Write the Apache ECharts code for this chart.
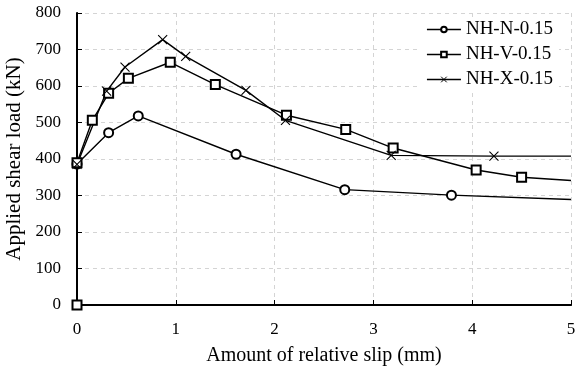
<!DOCTYPE html>
<html>
<head>
<meta charset="utf-8">
<script src="https://cdn.jsdelivr.net/npm/echarts@6/dist/echarts.min.js"></script>
<style>
  html, body { margin: 0; padding: 0; background: #fff; }
  #chart { width: 576px; height: 372px; }
</style>
</head>
<body>
<div id="chart"></div>
<script>
// slip (mm), load (kN); last point of each curve has no marker
const seriesNames = ['NH-N-0.15', 'NH-V-0.15', 'NH-X-0.15']
const slipN = [0, 0.32, 0.62, 1.61, 2.71, 3.79, 5]
const loadN = [386, 472, 518, 413, 316, 301, 289]
const slipV = [0, 0, 0.155, 0.32, 0.52, 0.944, 1.4, 2.12, 2.72, 3.2, 4.04, 4.5, 5]
const loadV = [0, 390, 506, 580, 621, 665, 604, 520, 481, 430, 370, 350, 341]
const slipX = [0, 0.3, 0.486, 0.867, 1.1, 1.71, 2.11, 3.18, 4.22, 5]
const loadX = [385, 586, 652, 727, 681, 588, 506, 410, 408, 408]

const FONT = '"Liberation Serif", "Times New Roman", serif'
const crossSymbol = 'path://M0,0L10,10M10,0L0,10'
const gridLine = { show: true, lineStyle: { color: '#d4d4d4', type: [4, 4], width: 1 } }

function toData(xs, ys) {
  return xs.map((x, i) => {
    if (i === xs.length - 1) {
      return { value: [x, ys[i]], symbol: 'none' }
    }
    return [x, ys[i]]
  })
}

function makeSeries(name, xs, ys, symbol, size) {
  return {
    name,
    type: 'line',
    data: toData(xs, ys),
    symbol,
    symbolSize: size,
    showAllSymbol: true,
    animation: false,
    z: 3,
    lineStyle: { color: '#000', width: 1.4 },
    itemStyle: { color: '#000', borderColor: '#000', borderWidth: 1.1 },
  }
}

// thin frame on the top and right sides, drawn above the dashed grid
function frameAxis(position) {
  return {
    type: 'value',
    position,
    min: 0,
    max: 1,
    axisLine: { show: true, lineStyle: { color: '#000', width: 1 } },
    axisTick: { show: false },
    axisLabel: { show: false },
    splitLine: { show: false },
  }
}

const chart = echarts.init(document.getElementById('chart'), null, { renderer: 'canvas' })

chart.setOption({
  backgroundColor: '#fff',
  animation: false,
  textStyle: { fontFamily: FONT, color: '#000' },
  grid: {
    left: 77,
    right: 5,
    top: 13,
    bottom: 67,
    containLabel: false,
    outerBoundsMode: 'none',
  },
  legend: {
    orient: 'vertical',
    right: 17,
    top: 18,
    padding: [2, 6, 2, 6],
    backgroundColor: '#fff',
    itemWidth: 34,
    itemHeight: 7,
    itemGap: 6,
    lineStyle: { color: '#000', width: 1.5 },
    itemStyle: { borderWidth: 1 },
    textStyle: { fontFamily: FONT, fontSize: 19, color: '#000' },
    data: seriesNames,
  },
  xAxis: [
    {
      type: 'value',
      min: 0,
      max: 5,
      interval: 1,
      name: 'Amount of relative slip (mm)',
      nameLocation: 'middle',
      nameGap: 41,
      nameTextStyle: { fontFamily: FONT, fontSize: 20, color: '#000' },
      axisLine: { show: true, onZero: false, lineStyle: { color: '#000', width: 2 } },
      axisTick: { show: true, inside: true, length: 5, lineStyle: { color: '#000', width: 1 } },
      axisLabel: { fontFamily: FONT, fontSize: 17, color: '#000', margin: 16 },
      splitLine: gridLine,
    },
    frameAxis('top'),
  ],
  yAxis: [
    {
      type: 'value',
      min: 0,
      max: 800,
      interval: 100,
      name: 'Applied shear load (kN)',
      nameLocation: 'middle',
      nameGap: 50,
      nameTextStyle: { fontFamily: FONT, fontSize: 21, color: '#000' },
      axisLine: { show: true, onZero: false, lineStyle: { color: '#000', width: 2 } },
      axisTick: { show: true, inside: true, length: 5, lineStyle: { color: '#000', width: 1 } },
      axisLabel: { fontFamily: FONT, fontSize: 17, color: '#000', margin: 16 },
      splitLine: gridLine,
    },
    frameAxis('right'),
  ],
  series: [
    makeSeries(seriesNames[0], slipN, loadN, 'emptyCircle', 9),
    makeSeries(seriesNames[1], slipV, loadV, 'emptyRect', 9),
    makeSeries(seriesNames[2], slipX, loadX, crossSymbol, 9),
  ],
})
</script>
</body>
</html>
